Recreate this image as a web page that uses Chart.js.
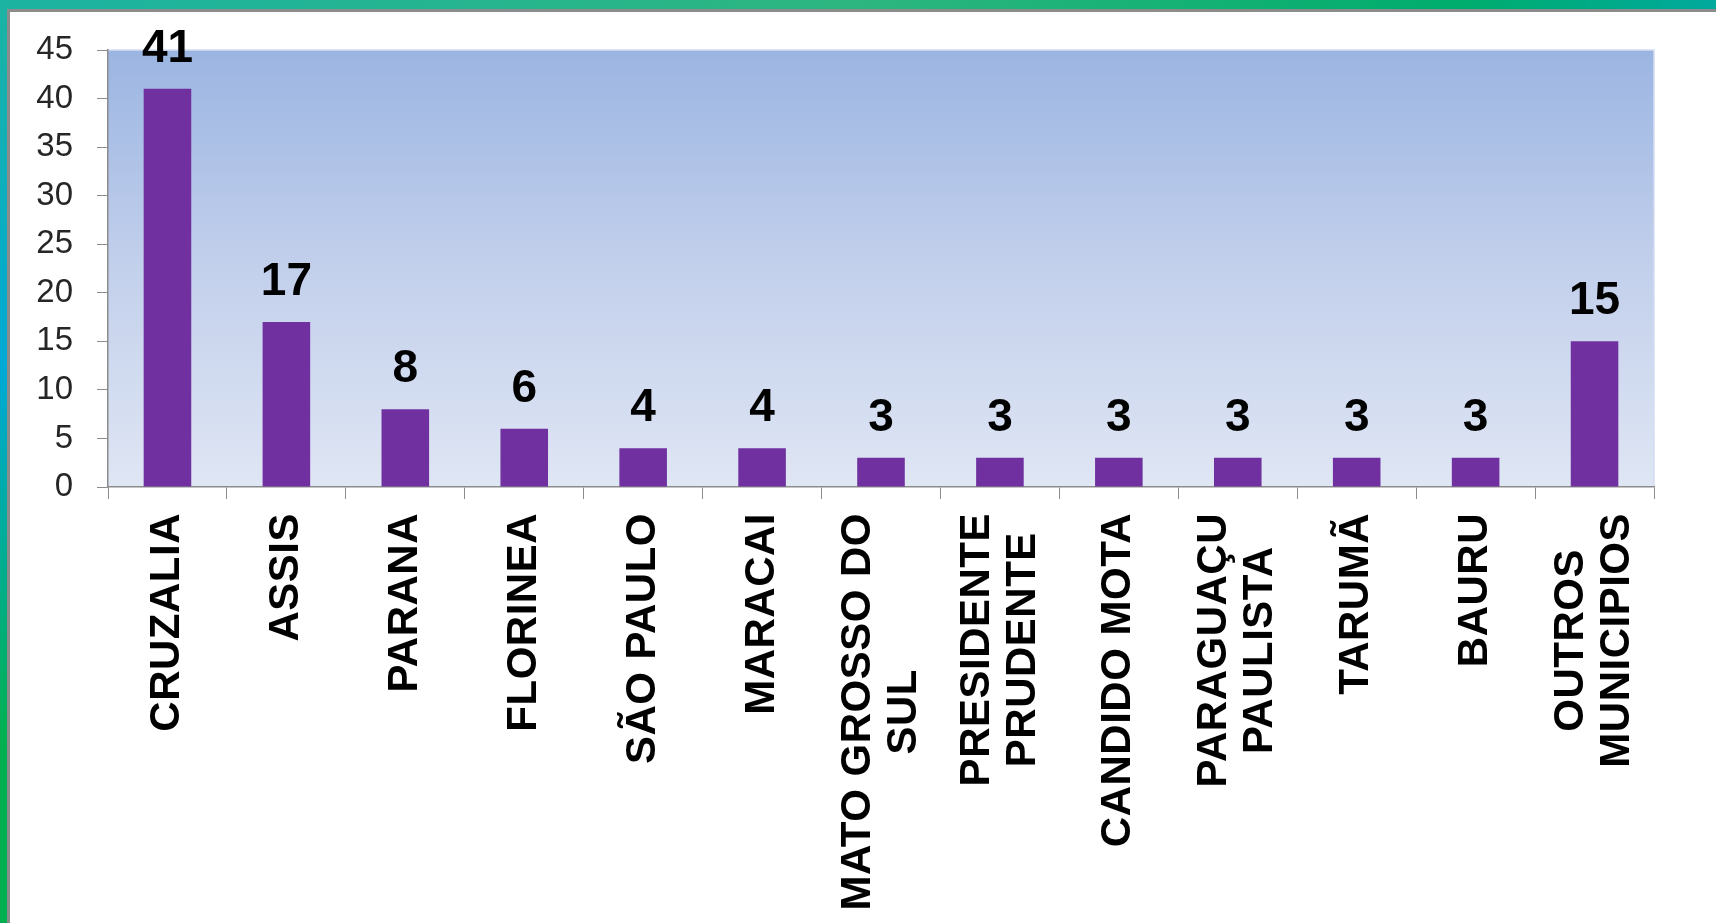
<!DOCTYPE html>
<html lang="pt-BR">
<head>
<meta charset="utf-8">
<title>Municípios</title>
<script src="https://cdn.jsdelivr.net/npm/chart.js@4.4.1/dist/chart.umd.min.js"></script>
<style>
  html, body { margin: 0; padding: 0; }
  body { width: 1716px; height: 923px; position: relative; overflow: hidden; background: #fff; }
  .faixa-topo { position: absolute; left: 0; top: 0; width: 1716px; height: 9px;
    background: linear-gradient(90deg, #1cb3a2 0%, #2db67f 50%, #00ad6c 85%, #00a99d 100%); }
  .faixa-esquerda { position: absolute; left: 0; top: 0; width: 7px; height: 923px;
    background: linear-gradient(180deg, #1cb3a2 0%, #00a9d6 40%, #00b050 80%, #00b050 100%); }
  .painel { position: absolute; left: 7px; top: 9px; width: 1706px; height: 911px;
    border-left: 3px solid #8c8c8c; border-top: 3px solid #8c8c8c; background: #fff; }
  .grafico { position: relative; width: 1706px; height: 911px; }
</style>
</head>
<body>
<div class="faixa-topo"></div>
<div class="faixa-esquerda"></div>
<div class="painel">
  <div class="grafico"><canvas id="municipiosChart"></canvas></div>
</div>
<script>
// Dados do gráfico
const municipios = ['CRUZALIA', 'ASSIS', 'PARANA', 'FLORINEA', 'SÃO PAULO', 'MARACAI',
  ['MATO GROSSO DO', 'SUL'], ['PRESIDENTE', 'PRUDENTE'], 'CANDIDO MOTA',
  ['PARAGUAÇU', 'PAULISTA'], 'TARUMÃ', 'BAURU', ['OUTROS', 'MUNICIPIOS']]

const quantidades = [41, 17, 8, 6, 4, 4, 3, 3, 3, 3, 3, 3, 15]

const valoresEixo = [0, 5, 10, 15, 20, 25, 30, 35, 40, 45]

const fonte = '"Liberation Sans", Arial, sans-serif'

// Fundo degradê da área do gráfico
const fundoArea = {
  id: 'fundoArea',
  beforeDraw(chart) {
    const { ctx, chartArea: { left, top, right, bottom } } = chart
    const degrade = ctx.createLinearGradient(0, top, 0, bottom)
    degrade.addColorStop(0, '#9bb5e2')
    degrade.addColorStop(0.5, '#c3d0ec')
    degrade.addColorStop(1, '#dfe6f4')
    ctx.save()
    ctx.fillStyle = degrade
    ctx.fillRect(left, top, right - left, bottom - top)
    ctx.strokeStyle = '#d3ddf1'
    ctx.lineWidth = 1.5
    ctx.beginPath()
    ctx.moveTo(left, top)
    ctx.lineTo(right, top)
    ctx.lineTo(right, bottom)
    ctx.stroke()
    ctx.restore()
  }
}

// Valores em cima das barras
const rotulosValores = {
  id: 'rotulosValores',
  afterDatasetsDraw(chart) {
    const { ctx } = chart
    const barras = chart.getDatasetMeta(0).data
    ctx.save()
    ctx.font = `bold 46px ${fonte}`
    ctx.fillStyle = '#000'
    ctx.textAlign = 'center'
    ctx.textBaseline = 'alphabetic'
    barras.forEach((barra, i) => {
      ctx.fillText(quantidades[i], barra.x, barra.y - 27)
    })
    ctx.restore()
  }
}

// Nomes dos municípios na vertical, linhas centralizadas
const rotulosCategorias = {
  id: 'rotulosCategorias',
  afterDraw(chart) {
    const { ctx, scales: { x } } = chart
    ctx.save()
    ctx.font = `bold 42px ${fonte}`
    ctx.letterSpacing = '0.5px'
    ctx.fillStyle = '#000'
    ctx.textAlign = 'center'
    ctx.textBaseline = 'middle'
    municipios.forEach((nome, i) => {
      const linhas = Array.isArray(nome) ? nome : [nome]
      const maior = Math.max(...linhas.map(l => ctx.measureText(l).width))
      const centro = x.getPixelForTick(i)
      const topo = x.top + 26
      linhas.forEach((linha, j) => {
        const desloc = (j - (linhas.length - 1) / 2) * 46
        ctx.save()
        ctx.translate(centro + desloc, topo + maior / 2)
        ctx.rotate(-Math.PI / 2)
        ctx.fillText(linha, 0, 0)
        ctx.restore()
      })
    })
    ctx.restore()
  }
}

const ctx = document.getElementById('municipiosChart').getContext('2d')
new Chart(ctx, {
  type: 'bar',
  data: {
    labels: municipios,
    datasets: [{
      data: quantidades,
      backgroundColor: '#7030a0',
      barPercentage: 0.4,
      categoryPercentage: 1
    }]
  },
  options: {
    responsive: true,
    maintainAspectRatio: false,
    animation: false,
    layout: { padding: { top: 38, right: 62, left: 0, bottom: 0 } },
    plugins: { legend: { display: false }, tooltip: { enabled: false } },
    scales: {
      x: {
        ticks: { display: false },
        grid: { offset: true, drawOnChartArea: false, tickLength: 12, color: '#8c8c8c' },
        border: { color: '#8c8c8c', width: 1.5 },
        afterFit: (scale) => { scale.height = 436 }
      },
      y: {
        min: 0,
        max: 45,
        afterBuildTicks: (scale) => { scale.ticks = valoresEixo.map(v => ({ value: v })) },
        ticks: { font: { family: fonte, size: 33 }, color: '#262626', padding: 24 },
        grid: { drawOnChartArea: false, tickLength: 11, color: '#8c8c8c' },
        border: { color: '#8c8c8c', width: 1.5 },
        afterFit: (scale) => {
          scale.width = 98
          // o padding dos rótulos não deve empurrar a área do gráfico
          scale.paddingTop = 0
          scale.paddingBottom = 0
        }
      }
    }
  },
  plugins: [fundoArea, rotulosValores, rotulosCategorias]
})
</script>
</body>
</html>
